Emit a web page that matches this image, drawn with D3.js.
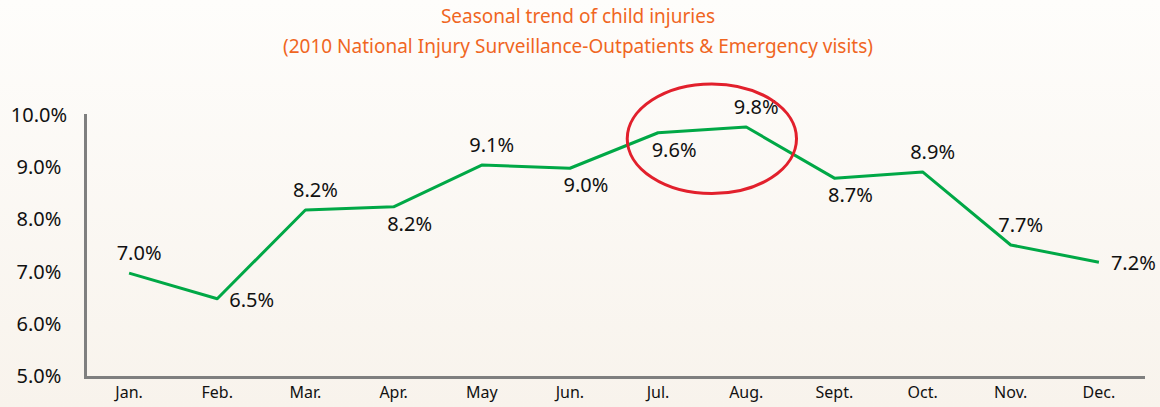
<!DOCTYPE html>
<html lang="en">
<head>
    <meta charset="utf-8" />
    <title>Seasonal trend of child injuries</title>
    <style type="text/css">
        html, body { margin: 0; padding: 0; }
        body { width: 1160px; height: 407px; overflow: hidden; }
        svg text { font-family: "Noto Sans", "Open Sans", sans-serif; }
        .title { fill: #f0661f; font-size: 19px; }
        .axis path { stroke: #7f7f7f; stroke-width: 3px; stroke-linecap: square; }
        .axis text { fill: #111; }
        .line { fill: none; stroke: #00a846; stroke-width: 3px; stroke-linejoin: round; }
        .value { fill: #111; font-size: 20px; }
    </style>
    <script src="https://cdn.jsdelivr.net/npm/d3@7/dist/d3.min.js"></script>
</head>
<body>
    <div id="chart"></div>
    <script type="text/javascript">
        // monthly share of child injury visits (%)
        const months = ['Jan.', 'Feb.', 'Mar.', 'Apr.', 'May', 'Jun.', 'Jul.', 'Aug.', 'Sept.', 'Oct.', 'Nov.', 'Dec.'];
        const injuryShare = [6.97, 6.48, 8.18, 8.24, 9.04, 8.98, 9.66, 9.77, 8.79, 8.91, 7.51, 7.18];
        const valueLabels = ['7.0%', '6.5%', '8.2%', '8.2%', '9.1%', '9.0%', '9.6%', '9.8%', '8.7%', '8.9%', '7.7%', '7.2%'];
        const labelPlace = ['above', 'right', 'above', 'below', 'above', 'below', 'below', 'above', 'below', 'above', 'above', 'right'];
        const yTicks = [5, 6, 7, 8, 9, 10];
        const titleLines = ['Seasonal trend of child injuries',
            '(2010 National Injury Surveillance-Outpatients & Emergency visits)'];

        const width = 1160, height = 407;
        const margin = {top: 115, right: 17, bottom: 30, left: 85};

        let x = d3.scaleBand().domain(months).range([margin.left, width - margin.right]);
        let y = d3.scaleLinear().domain([5, 10]).range([height - margin.bottom - 1, margin.top]);
        let cx = (d) => x(d) + x.bandwidth() / 2;

        let svg = d3.select('#chart').append('svg')
            .attr('width', width)
            .attr('height', height);

        let grad = svg.append('defs').append('linearGradient')
            .attr('id', 'bg')
            .attr('x1', 0).attr('y1', 0).attr('x2', 0).attr('y2', 1);
        grad.append('stop').attr('offset', '0%').attr('stop-color', '#fefdfb');
        grad.append('stop').attr('offset', '100%').attr('stop-color', '#f8f3ec');
        svg.append('rect')
            .attr('width', width)
            .attr('height', height)
            .attr('fill', 'url(#bg)');

        svg.selectAll('.title')
            .data(titleLines)
            .enter().append('text')
            .attr('class', 'title')
            .attr('x', 578)
            .attr('y', (d, i) => 23 + i * 30)
            .attr('text-anchor', 'middle')
            .text((d) => d);

        // axes
        let yAxis = svg.append('g')
            .attr('class', 'axis')
            .attr('transform', 'translate(' + margin.left + ',0)')
            .call(d3.axisLeft(y).tickValues(yTicks).tickSize(0).tickSizeOuter(0)
                .tickFormat((d) => d.toFixed(1) + '%'));
        yAxis.selectAll('text')
            .attr('x', -46)
            .attr('text-anchor', 'middle')
            .style('font-size', '20px');

        let xAxis = svg.append('g')
            .attr('class', 'axis')
            .attr('transform', 'translate(0,' + (height - margin.bottom) + ')')
            .call(d3.axisBottom(x).tickSize(0).tickSizeOuter(0).tickPadding(10));
        xAxis.selectAll('text')
            .style('font-size', '16px');
        yAxis.select('.domain').raise();

        // line
        let valueline = d3.line()
            .x((d, i) => cx(months[i]))
            .y((d) => y(d));

        svg.append('path')
            .datum(injuryShare)
            .attr('class', 'line')
            .attr('d', valueline);

        // value labels
        svg.selectAll('.value')
            .data(injuryShare)
            .enter().append('text')
            .attr('class', 'value')
            .attr('x', (d, i) => {
                let p = labelPlace[i];
                return cx(months[i]) + (p === 'right' ? 12 : p === 'below' ? 16 : 10);
            })
            .attr('y', (d, i) => {
                let p = labelPlace[i];
                return y(d) + (p === 'above' ? -20 : p === 'below' ? 17 : 1);
            })
            .attr('dy', '0.35em')
            .attr('text-anchor', (d, i) => labelPlace[i] === 'right' ? 'start' : 'middle')
            .text((d, i) => valueLabels[i]);

        // highlight around the summer peak (Jul. - Aug.)
        let jul = months.indexOf('Jul.');
        svg.append('ellipse')
            .attr('cx', cx(months[jul]) + x.step() * 0.61)
            .attr('cy', y((injuryShare[jul] + injuryShare[jul + 1]) / 2 - 0.17))
            .attr('rx', x.step() * 0.96)
            .attr('ry', y(8.5) - y(9.55))
            .attr('fill', 'none')
            .attr('stroke', '#e2202c')
            .attr('stroke-width', 3);
    </script>
</body>
</html>
